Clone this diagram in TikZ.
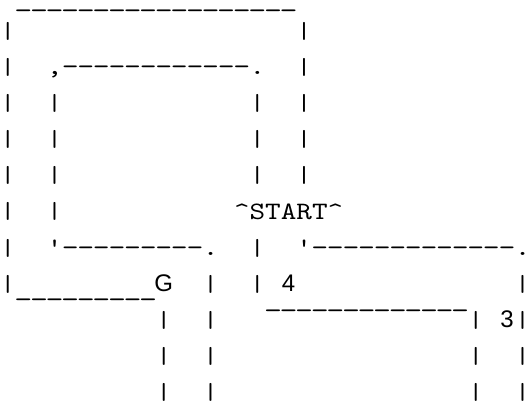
\documentclass[tikz,border=0pt]{standalone}
\usepackage{fontspec}
\newfontfamily\monof[FakeStretch=1.1886,Ligatures=TeXOff]{lmmono10-regular.otf}
\newfontfamily\sansf{Liberation Sans}
\newcommand{\vb}{\setbox0\hbox{\resizebox*{!}{18pt}{|}}\raisebox{\dp0}{\box0}}
\newcommand{\dsh}{\makebox[15.6pt]{\scalebox{1.08}[1]{-}}}
\newcommand{\usc}{\makebox[15.6pt]{\scalebox{1.15}[1]{\_}}}
\newcommand{\reps}[2]{\foreach \i in {1,...,#1}{#2}}
\tikzset{
  asc/.style={anchor=base west, inner sep=0pt, outer sep=0pt, font=\monof\fontsize{25}{30}\selectfont},
  bar/.style={asc, anchor=base, xshift=7.8pt},
  uline/.style={asc, yshift=-5pt, text height=1pt, text depth=1pt},
  lbl/.style={anchor=base, inner sep=0pt, outer sep=0pt, font=\sansf\fontsize{24}{28}\selectfont}
}
\begin{document}
\begin{tikzpicture}[x=15.6pt, y=-36pt]
\useasboundingbox (0pt,0pt) rectangle (528pt,-401pt);
\begin{scope}[yshift=-3pt]
% row 0
\node[uline] (topline) at (1,0) {\reps{18}{\usc}};
% row 1
\node[bar] (l1) at (0,1) {\vb};
\node[bar] (r1) at (19,1) {\vb};
% row 2
\node[bar] (l2) at (0,2) {\vb};
\node[asc] (innertop) at (3,2) {,\reps{12}{\dsh}.};
\node[bar] (r2) at (19,2) {\vb};
% rows 3-5
\foreach \r in {3,4,5}{
  \node[bar] (la\r) at (0,\r) {\vb};
  \node[bar] (lb\r) at (3,\r) {\vb};
  \node[bar] (rb\r) at (16,\r) {\vb};
  \node[bar] (ra\r) at (19,\r) {\vb};
}
% row 6
\node[bar] (l6) at (0,6) {\vb};
\node[bar] (lb6) at (3,6) {\vb};
\node[asc] (start) at (15,6) {\textasciicircum START\textasciicircum};
% row 7
\node[bar] (l7) at (0,7) {\vb};
\node[asc] (innerbot) at (3,7) {'\reps{9}{\dsh}.};
\node[bar] (m7) at (16,7) {\vb};
\node[asc] (rightbot) at (19,7) {'\reps{13}{\dsh}.};
% row 8
\node[bar] (l8) at (0,8) {\vb};
\node[uline] (gline) at (1,8) {\reps{9}{\usc}};
\node[lbl] (G) at (10.5,8) {G};
\node[bar] (a8) at (13,8) {\vb};
\node[bar] (b8) at (16,8) {\vb};
\node[lbl] (four) at (18.5,8) {4};
\node[bar] (c8) at (33,8) {\vb};
% floating underscores
\node[uline] (bar4) at (17,8.33) {\reps{13}{\usc}};
% row 9
\node[bar] (a9) at (10,9) {\vb};
\node[bar] (b9) at (13,9) {\vb};
\node[bar] (c9) at (30,9) {\vb};
\node[lbl] (three) at (32.5,9) {3};
\node[bar] (d9) at (33,9) {\vb};
% rows 10-11
\foreach \r in {10,11}{
  \node[bar] (a\r) at (10,\r) {\vb};
  \node[bar] (b\r) at (13,\r) {\vb};
  \node[bar] (c\r) at (30,\r) {\vb};
  \node[bar] (d\r) at (33,\r) {\vb};
}
\end{scope}
\end{tikzpicture}
\end{document}
